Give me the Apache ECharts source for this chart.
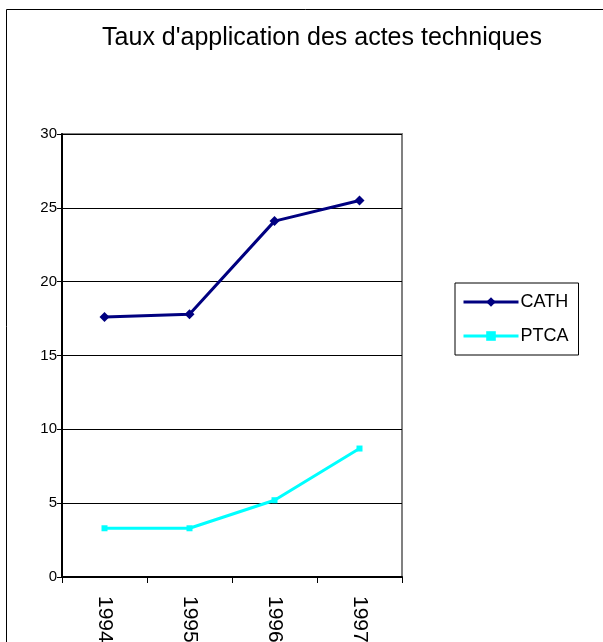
<!DOCTYPE html>
<html lang="fr">
<head>
    <meta charset="UTF-8">
    <script src="https://cdn.jsdelivr.net/npm/echarts@6/dist/echarts.min.js"></script>
    <title>Taux d'application des actes techniques</title>
    <style>
        html, body { margin: 0; padding: 0; background: #fff; overflow: hidden; }
    </style>
</head>
<body>
    <div id="chart" style="width: 603px;height:642px;"></div>
</body>
<script type="text/javascript">
    // données
    var years = ['1994', '1995', '1996', '1997'];
    var cath = [17.6, 17.8, 24.1, 25.5];
    var ptca = [3.3, 3.3, 5.2, 8.7];
    var yTicks = [0, 5, 10, 15, 20, 25, 30];

    var font = '"Liberation Sans", Arial, sans-serif';
    var chart = echarts.init(document.getElementById('chart'));

    chart.setOption({
        animation: false,
        title: {
            text: "Taux d'application des actes techniques",
            left: 317,
            textAlign: 'center',
            top: 21,
            textStyle: {
                fontFamily: font,
                fontSize: 25,
                fontWeight: 'normal',
                color: '#000'
            }
        },
        graphic: [{
            type: 'rect',
            shape: {x: 6.5, y: 9.5, width: 700, height: 700},
            style: {fill: 'none', stroke: '#000', lineWidth: 1},
            silent: true,
            z: -1
        }],
        legend: {
            orient: 'vertical',
            left: 455,
            top: 283,
            padding: [9, 10, 9, 7],
            itemGap: 14,
            itemWidth: 55,
            itemHeight: 12,
            borderColor: '#000',
            borderWidth: 1,
            textStyle: {fontFamily: font, fontSize: 18, lineHeight: 20, color: '#000', padding: [0, 0, 0, -3]},
            data: [
                {name: 'CATH', lineStyle: {width: 3}},
                {name: 'PTCA', lineStyle: {width: 3}}
            ]
        },
        grid: {
            left: 62,
            top: 134,
            width: 340,
            height: 443,
            outerBoundsMode: 'none',
            containLabel: false,
            show: true,
            borderColor: '#808080',
            borderWidth: 2,
            backgroundColor: '#fff'
        },
        xAxis: {
            type: 'category',
            data: years,
            boundaryGap: true,
            axisLine: {lineStyle: {color: '#000', width: 2}},
            axisTick: {show: true, length: 6, lineStyle: {color: '#000'}},
            axisLabel: {
                rotate: -90,
                margin: 19,
                fontFamily: font,
                fontSize: 21,
                color: '#000'
            }
        },
        yAxis: {
            type: 'value',
            min: yTicks[0],
            max: yTicks[yTicks.length - 1],
            interval: 5,
            axisLine: {show: true, lineStyle: {color: '#000', width: 2}},
            axisTick: {show: true, length: 5, lineStyle: {color: '#000'}},
            axisLabel: {fontFamily: font, fontSize: 15, color: '#000', margin: 5},
            splitLine: {show: true, lineStyle: {color: '#000', width: 1}}
        },
        series: [{
            name: 'CATH',
            type: 'line',
            data: cath,
            symbol: 'diamond',
            symbolSize: 10,
            lineStyle: {color: '#000080', width: 3},
            itemStyle: {color: '#000080'}
        }, {
            name: 'PTCA',
            type: 'line',
            data: ptca,
            symbol: 'rect',
            symbolSize: 6,
            lineStyle: {color: '#00ffff', width: 3},
            itemStyle: {color: '#00ffff'}
        }]
    });
</script>
</html>
